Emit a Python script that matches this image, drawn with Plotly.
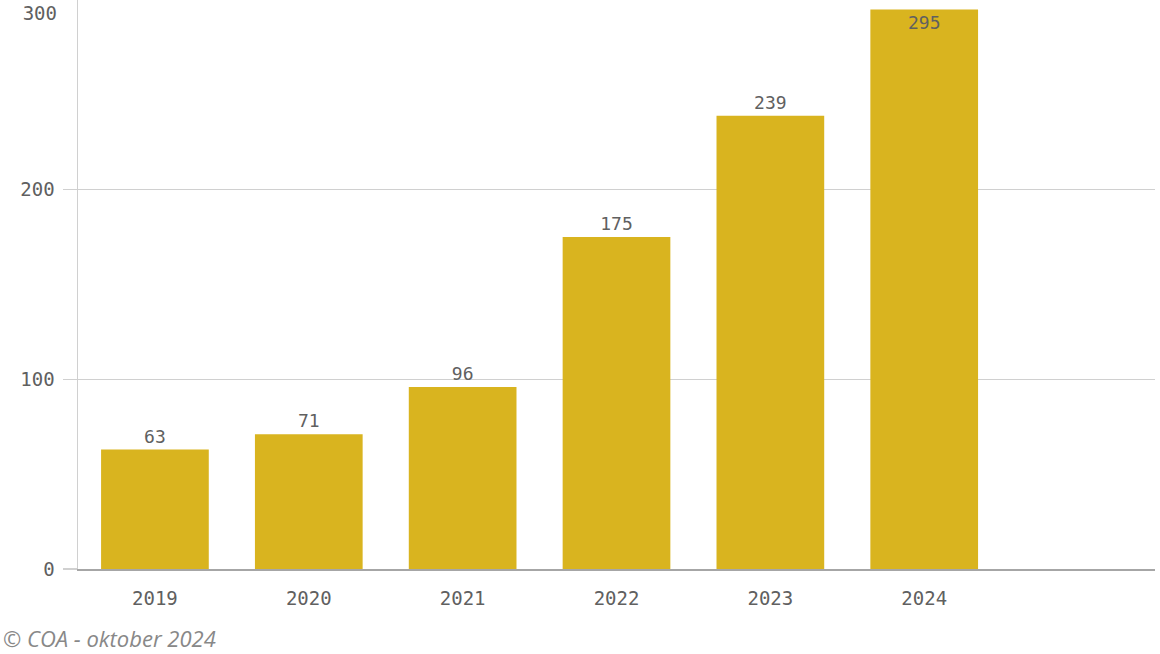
import plotly.graph_objects as go

years = ["2019", "2020", "2021", "2022", "2023", "2024"]
values = [63, 71, 96, 175, 239, 295]
label_pos = ["outside", "outside", "outside", "outside", "outside", "inside"]
y_ticks = [0, 100, 200]
y_top_tick = [300]
footnote = "© COA - oktober 2024"

mono = "DejaVu Sans Mono"
txt_col = "#606060"

fig = go.Figure()
fig.add_trace(go.Bar(
    x=years, y=values,
    marker=dict(color="#D9B41F", line=dict(width=0)),
    text=[str(v) for v in values],
    textposition=label_pos,
    insidetextanchor="end",
    textfont=dict(family=mono, size=18, color=txt_col),
    outsidetextfont=dict(family=mono, size=18, color=txt_col),
    insidetextfont=dict(family=mono, size=18, color=txt_col),
    cliponaxis=False,
    hoverinfo="skip",
))

fig.update_layout(
    width=1160, height=654,
    margin=dict(l=78, r=5, t=0, b=85, autoexpand=False),
    paper_bgcolor="white", plot_bgcolor="white",
    bargap=0.3,
    showlegend=False,
    xaxis=dict(
        type="category",
        categoryorder="array", categoryarray=years,
        range=[-0.5, 6.5],
        automargin=False,
        showgrid=False,
        showline=True, linecolor="#a6a6a6", linewidth=2,
        ticks="", ticklabelstandoff=11,
        tickfont=dict(family=mono, size=19, color=txt_col),
        zeroline=False,
    ),
    yaxis=dict(
        range=[0, 300],
        tickvals=y_ticks,
        automargin=False,
        showgrid=True, gridcolor="#d0d0d0", gridwidth=1.3,
        showline=True, linecolor="#d0d0d0", linewidth=1.5,
        ticks="outside", ticklen=14, tickcolor="#d0d0d0", tickwidth=1.5,
        ticklabelstandoff=4,
        tickfont=dict(family=mono, size=19, color=txt_col),
        zeroline=False,
    ),
    yaxis2=dict(
        overlaying="y", side="left",
        range=[0, 300],
        tickvals=y_top_tick,
        automargin=False,
        ticklabelposition="outside bottom",
        showgrid=False, showline=False, zeroline=False,
        ticks="", ticklabelstandoff=20,
        tickfont=dict(family=mono, size=19, color=txt_col),
    ),
    annotations=[dict(
        text=footnote, xref="paper", yref="paper",
        x=0, y=0, xanchor="left", yanchor="middle",
        xshift=-77, yshift=-69,
        showarrow=False,
        font=dict(family="Open Sans", size=22, color="#888888", style="italic"),
    )],
)
# invisible trace to activate yaxis2
fig.add_trace(go.Scatter(x=[years[0]], y=[0], yaxis="y2", mode="markers",
                         marker=dict(opacity=0), hoverinfo="skip", showlegend=False))

fig.write_html("out.html",
               config={"displayModeBar": False, "staticPlot": True},
               post_script="document.body.style.margin='0';document.body.style.overflow='hidden';")
